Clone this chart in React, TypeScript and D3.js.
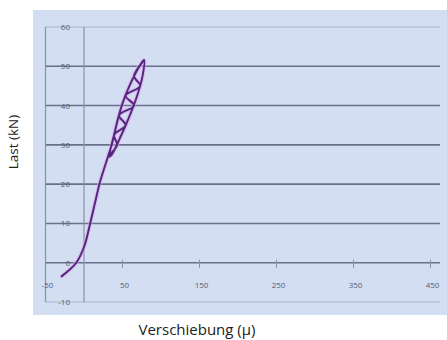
import { useEffect, useRef } from "react";
import * as d3 from "d3";

// Verschiebung (µ) / Last (kN) – Erstbelastung, Schleife, Lastzyklen
const shiftValues = [
  -30, -20, -10, 0, 8, 14, 20, 27, 32,
  36, 42, 49, 59, 72, 78,
  76, 69, 59.5, 48.5, 36, 33,
  39, 49, 59, 72, 78,
  65, 73, 54, 65, 45.5, 54, 39, 43, 33,
];
const loadValues = [
  -3.6, -2, 0, 4, 10, 15, 20, 24.5, 27.5,
  30, 35, 40, 45, 50, 51.6,
  47.5, 42.5, 37.5, 32.5, 27.5, 27,
  32.5, 40, 45, 50, 51.6,
  47.5, 45, 42.5, 40, 37.5, 35, 32.5, 30, 27.5,
];

const xTicks = [-50, 50, 150, 250, 350, 450];
const yTicks = [-10, 0, 10, 20, 30, 40, 50, 60];
const gridTicks = [0, 10, 20, 30, 40, 50];

const width = 447;
const height = 340;

export default function App() {
  const svgRef = useRef<SVGSVGElement>(null);

  useEffect(() => {
    const svg = d3.select(svgRef.current);
    svg.selectAll("*").remove();

    const x = d3.scaleLinear().domain([-50, 450]).range([45.5, 430.5]);
    const y = d3.scaleLinear().domain([-10, 60]).range([302, 27]);

    // Hintergrund
    svg
      .append("rect")
      .attr("x", 33)
      .attr("y", 10)
      .attr("width", width - 33)
      .attr("height", 305)
      .attr("fill", "#d4def2");

    // Gitterlinien
    svg
      .append("g")
      .selectAll("line")
      .data(gridTicks)
      .join("line")
      .attr("x1", x(-50))
      .attr("x2", 440)
      .attr("y1", (d) => y(d))
      .attr("y2", (d) => y(d))
      .attr("stroke", "#68718a")
      .attr("stroke-width", 1.6);

    svg
      .append("g")
      .selectAll("line")
      .data([60, -10])
      .join("line")
      .attr("x1", x(-50))
      .attr("x2", 440)
      .attr("y1", (d) => y(d))
      .attr("y2", (d) => y(d))
      .attr("stroke", "#aab4ca")
      .attr("stroke-width", 1.2);

    // senkrechte Linien (Rand und y-Achse)
    svg
      .append("g")
      .selectAll("line")
      .data([-50, 0])
      .join("line")
      .attr("x1", (d) => x(d))
      .attr("x2", (d) => x(d))
      .attr("y1", y(60))
      .attr("y2", y(-10))
      .attr("stroke", "#8790a8")
      .attr("stroke-width", 1.2);

    // Teilstriche x
    svg
      .append("g")
      .selectAll("line")
      .data(xTicks.slice(1))
      .join("line")
      .attr("x1", (d) => x(d))
      .attr("x2", (d) => x(d))
      .attr("y1", y(0) - 3)
      .attr("y2", y(0) + 5)
      .attr("stroke", "#8790a8")
      .attr("stroke-width", 1);

    // Achsenbeschriftung x
    svg
      .append("g")
      .selectAll("text")
      .data(xTicks)
      .join("text")
      .attr("x", (d) => x(d) + 2)
      .attr("y", y(0) + 25)
      .attr("text-anchor", "middle")
      .style("font-family", "'Open Sans', sans-serif")
      .style("font-size", "8px")
      .attr("fill", "#555d70")
      .text((d) => d);

    // Achsenbeschriftung y
    svg
      .append("g")
      .selectAll("text")
      .data(yTicks)
      .join("text")
      .attr("x", 70)
      .attr("y", (d) => y(d) + 3)
      .attr("text-anchor", "end")
      .style("font-family", "'Open Sans', sans-serif")
      .style("font-size", "8px")
      .attr("fill", "#555d70")
      .text((d) => d);

    // Kurve
    const points = shiftValues.map((v, i) => [v, loadValues[i]] as [number, number]);
    const line = d3
      .line<[number, number]>()
      .x((d) => x(d[0]))
      .y((d) => y(d[1]))
      .curve(d3.curveCatmullRom.alpha(0.5));

    svg
      .append("path")
      .datum(points)
      .attr("d", line)
      .attr("fill", "none")
      .attr("stroke", "#e2a8f0")
      .attr("stroke-opacity", 0.5)
      .attr("stroke-width", 4.5)
      .attr("stroke-linejoin", "round");

    svg
      .append("path")
      .datum(points)
      .attr("d", line)
      .attr("fill", "none")
      .attr("stroke", "#55287f")
      .attr("stroke-width", 2)
      .attr("stroke-linejoin", "round");

    // Achsentitel
    svg
      .append("text")
      .attr("transform", `translate(18,142) rotate(-90)`)
      .attr("text-anchor", "middle")
      .style("font-family", "'Open Sans', sans-serif")
      .style("font-size", "13.5px")
      .attr("fill", "#222")
      .text("Last (kN)");

    svg
      .append("text")
      .attr("x", 197)
      .attr("y", 335)
      .attr("text-anchor", "middle")
      .style("font-family", "'Open Sans', sans-serif")
      .style("font-size", "15px")
      .attr("fill", "#222")
      .text("Verschiebung (µ)");
  }, []);

  return (
    <svg
      ref={svgRef}
      width={width}
      height={height}
      style={{ position: "absolute", left: 0, top: 0, background: "#fff" }}
    />
  );
}
